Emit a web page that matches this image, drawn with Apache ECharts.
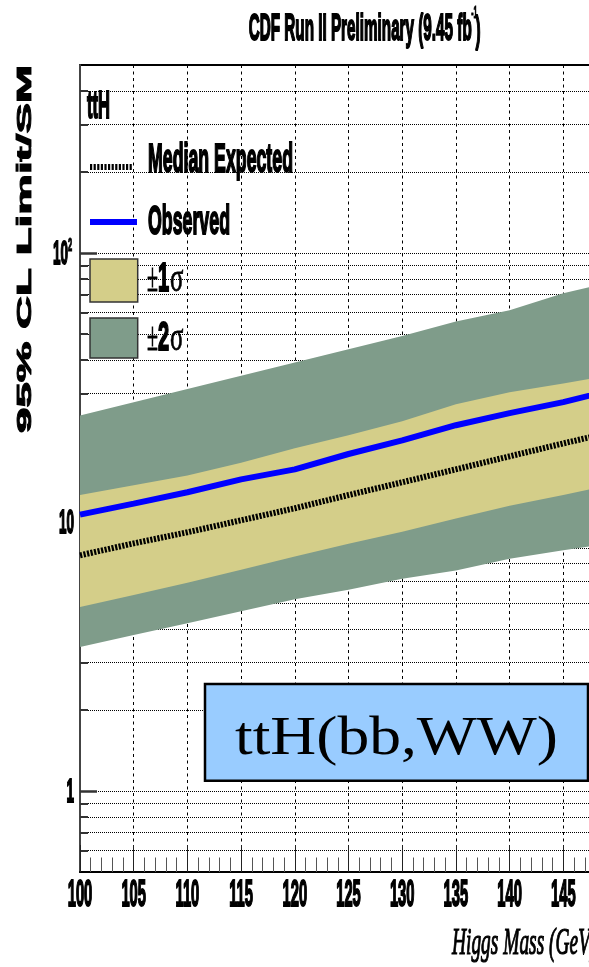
<!DOCTYPE html>
<html><head><meta charset="utf-8">
<script src="https://cdn.jsdelivr.net/npm/echarts@6/dist/echarts.min.js"></script>
<style>html,body{margin:0;padding:0;background:#fff}#c{width:589px;height:967px}</style>
</head><body><div id="c"></div>
<script>
// ---- data ----
const MASS      = [100, 105, 110, 115, 120, 125, 130, 135, 140, 145, 150];
const OBSERVED  = [10.65, 11.7, 12.9, 14.4, 15.7, 17.9, 20.1, 22.9, 25.4, 27.9, 31.3];
const MEDIAN    = [7.52, 8.33, 9.16, 10.15, 11.25, 12.6, 14.05, 15.7, 17.55, 19.6, 21.8];
const PLUS1S    = [12.6, 13.7, 14.9, 16.6, 18.8, 21.0, 23.7, 27.4, 30.4, 32.7, 35.5];
const MINUS1S   = [4.83, 5.35, 5.95, 6.65, 7.45, 8.3, 9.2, 10.3, 11.5, 12.6, 13.9];
const PLUS2S    = [24.9, 27.9, 31.2, 35.0, 39.2, 43.9, 49.1, 55.7, 61.3, 70.8, 79];
const MINUS2S   = [3.43, 3.80, 4.20, 4.66, 5.16, 5.6, 6.15, 6.6, 7.3, 7.85, 8.4];

const X_TICKS        = [100, 105, 110, 115, 120, 125, 130, 135, 140, 145, 150];
const X_TICK_LABELS  = ['100', '105', '110', '115', '120', '125', '130', '135', '140', '145', '150'];
const Y_MAJOR        = [1, 10, 100];
const Y_MAJOR_BASE   = ['1', '10', '10'];
const Y_MAJOR_EXP    = ['', '', '2'];
const Y_MINOR        = [0.6, 0.7, 0.8, 0.9, 2, 3, 4, 5, 6, 7, 8, 9, 20, 30, 40, 50, 60, 70, 80, 90, 200, 300, 400];
const X_MIN = 100, X_MAX = 150, Y_MIN = 0.5, Y_MAX = 500;

const TITLE   = 'CDF Run II Preliminary (9.45 fb';
const X_TITLE = 'Higgs Mass (GeV)';
const Y_TITLE = '95% CL Limit/SM';
const LEG_HEADER = 'ttH';
const LEG_MEDIAN = 'Median Expected';
const LEG_OBS    = 'Observed';
const BOX_TEXT   = 'ttH(bb,WW)';

// ---- styles ----
const C_1S = '#d4ce89', C_2S = '#7f9c8a', C_OBS = '#0000ff', C_BOX = '#99ccff';
const SANS  = '"Liberation Sans", Arial, Helvetica, sans-serif';
const SERIF = '"Liberation Serif", "Times New Roman", serif';
const ctx = document.createElement('canvas').getContext('2d');
function fit(text, font, w) { ctx.font = font; return w / ctx.measureText(text).width; }
function txt(x, y, text, font, sx, align, extra, lw) {
  const el = {
    type: 'text', x: x, y: y, scaleX: sx, scaleY: 1, z: 100, silent: true,
    style: { text: text, font: font, fill: '#000', align: align, verticalAlign: 'middle',
             textAlign: align, textVerticalAlign: 'middle' }
  };
  if (lw) { el.style.stroke = '#000'; el.style.lineWidth = lw; }
  return Object.assign(el, extra || {});
}
function pm(x, y, digit) {
  // "±n σ" legend label built from three pieces
  const fS = '40px ' + SERIF, fB = 'bold 40px ' + SANS, s = 0.5;
  ctx.font = fS; const wPm = ctx.measureText('\u00B1').width * s;
  ctx.font = fB; const wD = ctx.measureText(digit).width * s;
  return [
    txt(x, y, '\u00B1', fS, s, 'left', null, 0.8),
    txt(x + wPm, y, digit, fB, s, 'left', null, 2),
    txt(x + wPm + wD + 1, y, '\u03C3', fS, 0.62, 'left', null, 0.8)
  ];
}

const F_XLAB = 'bold 37px ' + SANS;
const SX_XLAB = fit('100', F_XLAB, 24.6);
const F_YLAB = 'bold 34px ' + SANS;
const SX_YLAB = fit('10', F_YLAB, 15);
const F_YEXP = 'bold 19px ' + SANS;

const F_TITLE = 'bold 36px ' + SANS;
const SX_TITLE = fit(TITLE, F_TITLE, 223);
const F_LEG = 'bold 40px ' + SANS;

const chart = echarts.init(document.getElementById('c'), null, { renderer: 'canvas' });

const dotted = { type: [1, 1], color: '#000', width: 1 };

const option = {
  animation: false,
  backgroundColor: '#fff',
  grid: { left: 80, top: 65, width: 537, height: 807, outerBoundsMode: 'none', containLabel: false,
          show: true, borderColor: '#000', borderWidth: 2, backgroundColor: 'transparent' },
  xAxis: {
    type: 'value', min: X_MIN, max: X_MAX, interval: 5,
    axisLine: { show: true, onZero: false, lineStyle: { color: '#000', width: 2 } },
    axisTick: { show: true, inside: true, length: 27, lineStyle: { color: '#222', width: 1 } },
    minorTick: { show: true, splitNumber: 5, length: 14.5, lineStyle: { color: '#555', width: 1 } },
    axisLabel: { show: false },
    splitLine: { show: true, lineStyle: { type: [3, 3.5], color: '#000', width: 1 } }
  },
  yAxis: [{
    type: 'log', logBase: 10, min: Y_MIN, max: Y_MAX,
    axisLine: { show: true, lineStyle: { color: '#444', width: 2 } },
    axisTick: { show: true, inside: true, length: 17, customValues: Y_MAJOR, lineStyle: { color: '#333', width: 2.5 } },
    axisLabel: { show: false },
    splitLine: { show: true, lineStyle: dotted }
  }, {
    type: 'log', logBase: 10, min: Y_MIN, max: Y_MAX, position: 'left',
    axisLine: { show: false },
    axisTick: { show: true, inside: true, length: 8, customValues: Y_MINOR, lineStyle: { color: '#333', width: 2 } },
    axisLabel: { show: false },
    splitLine: { show: true, lineStyle: dotted }
  }],
  series: [
    {
      type: 'custom', name: 'bands', silent: true, z: 2, clip: true,
      data: MASS.map((m, i) => [m, MINUS2S[i], PLUS2S[i], MINUS1S[i], PLUS1S[i]]),
      encode: { x: 0, y: [1, 2, 3, 4] },
      renderItem: function (params, api) {
        if (params.dataIndex !== 0) return null;
        const poly = (lo, hi) => {
          const pts = [];
          for (let i = 0; i < MASS.length; i++) pts.push(api.coord([MASS[i], hi[i]]));
          for (let i = MASS.length - 1; i >= 0; i--) pts.push(api.coord([MASS[i], lo[i]]));
          return pts;
        };
        return { type: 'group', children: [
          { type: 'polygon', shape: { points: poly(MINUS2S, PLUS2S) }, style: { fill: C_2S } },
          { type: 'polygon', shape: { points: poly(MINUS1S, PLUS1S) }, style: { fill: C_1S } }
        ] };
      }
    },
    {
      type: 'line', name: LEG_MEDIAN, silent: true, z: 3, symbol: 'none',
      data: MASS.map((m, i) => [m, MEDIAN[i]]),
      lineStyle: { color: '#000', width: 6, type: [2.2, 1.4] }
    },
    {
      type: 'line', name: LEG_OBS, silent: true, z: 4, symbol: 'none',
      data: MASS.map((m, i) => [m, OBSERVED[i]]),
      lineStyle: { color: C_OBS, width: 6 }
    },
    {
      type: 'custom', name: 'xlabels', silent: true, clip: false, z: 10,
      data: X_TICKS.map(v => [v, Y_MIN]),
      renderItem: function (params, api) {
        const p = api.coord([api.value(0), Y_MIN]);
        return txt(p[0], p[1] + 24, X_TICK_LABELS[params.dataIndex], F_XLAB, SX_XLAB, 'center', null, 2);
      }
    },
    {
      type: 'custom', name: 'ylabels', silent: true, clip: false, z: 10,
      data: Y_MAJOR.map(v => [X_MIN, v]),
      renderItem: function (params, api) {
        const p = api.coord([X_MIN, api.value(1)]);
        const exp = Y_MAJOR_EXP[params.dataIndex];
        const rx = exp ? p[0] - 12 : p[0] - 6;
        const children = [txt(rx, p[1] + 2, Y_MAJOR_BASE[params.dataIndex], F_YLAB, SX_YLAB, 'right', null, 2)];
        if (exp) children.push(txt(rx, p[1] - 7, exp, F_YEXP, SX_YLAB, 'left', null, 1.2));
        return { type: 'group', children: children };
      }
    }
  ],
  graphic: { elements: [
    // title
    txt(248.7, 30, TITLE, F_TITLE, SX_TITLE, 'left', null, 2),
    txt(471.3, 13.5, '-1', 'bold 16px ' + SANS, fit('-1', 'bold 16px ' + SANS, 6), 'left', null, 1),
    txt(475.5, 32, ')', F_TITLE, SX_TITLE, 'left', null, 2),
    // axis titles
    txt(25.5, 249, Y_TITLE, 'bold 21px ' + SANS, fit(Y_TITLE, 'bold 21px ' + SANS, 368), 'center', { rotation: Math.PI / 2 }, 0.9),
    txt(452, 944, X_TITLE, 'italic 38px ' + SERIF, fit('Higgs Mass (GeV', 'italic 38px ' + SERIF, 138), 'left', null, 1.2),
    // legend
    txt(87, 107.5, LEG_HEADER, 'bold 39px ' + SANS, fit(LEG_HEADER, 'bold 39px ' + SANS, 23), 'left', null, 2),
    { type: 'line', z: 100, silent: true, shape: { x1: 90, y1: 167, x2: 133, y2: 167 }, style: { stroke: '#000', lineWidth: 6, lineDash: [2.2, 1.4] } },
    txt(148, 160.5, LEG_MEDIAN, F_LEG, fit(LEG_MEDIAN, F_LEG, 145), 'left', null, 2),
    { type: 'line', z: 100, silent: true, shape: { x1: 90, y1: 222, x2: 137, y2: 222 }, style: { stroke: C_OBS, lineWidth: 6 } },
    txt(148, 223, LEG_OBS, F_LEG, fit(LEG_OBS, F_LEG, 82), 'left', null, 2),
    { type: 'rect', z: 100, silent: true, shape: { x: 90, y: 259, width: 47.7, height: 43 }, style: { fill: C_1S, stroke: '#333', lineWidth: 1.5 } },
    { type: 'rect', z: 100, silent: true, shape: { x: 90, y: 318, width: 47.7, height: 40 }, style: { fill: C_2S, stroke: '#333', lineWidth: 1.5 } }
  ].concat(pm(147, 280, '1'), pm(147, 339, '2'), [
    // annotation box
    { type: 'rect', z: 100, silent: true, shape: { x: 205, y: 684, width: 383, height: 96.7 }, style: { fill: C_BOX, stroke: '#000', lineWidth: 2.5 } },
    txt(396.5, 740, BOX_TEXT, '55px ' + SERIF, fit(BOX_TEXT, '55px ' + SERIF, 323), 'center', { z: 101 })
  ]) }
};
chart.setOption(option);
</script>
</body></html>
